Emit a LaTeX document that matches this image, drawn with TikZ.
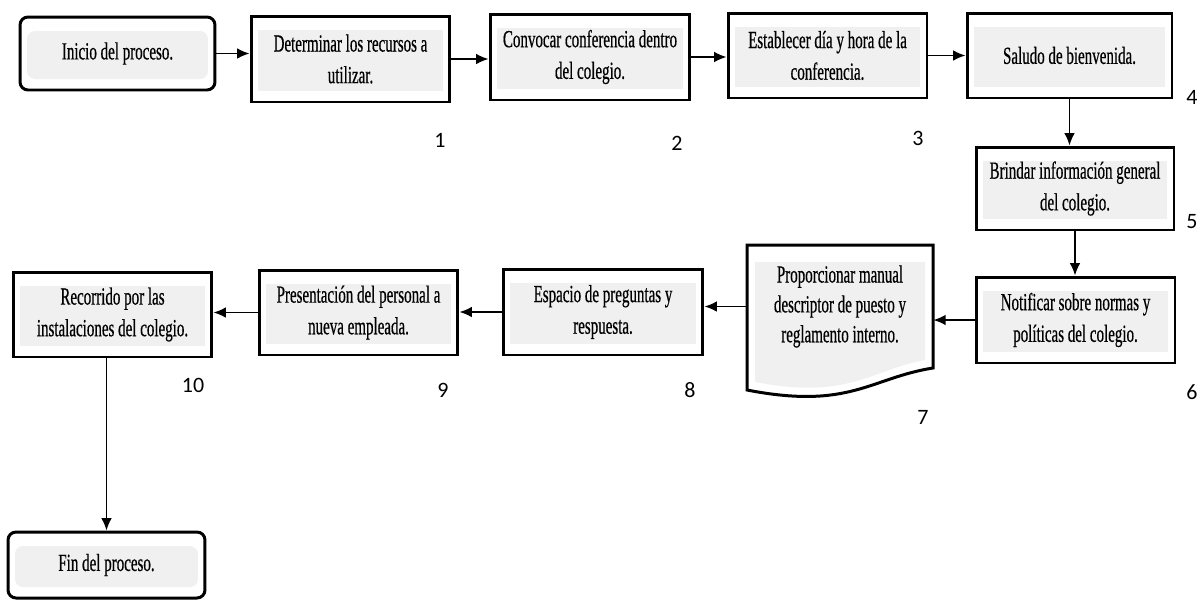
\documentclass[tikz,border=0pt]{standalone}
\usepackage{fontspec}
\setmainfont{Liberation Serif}[FakeStretch=0.61, FakeBold=0.5]
\newfontfamily\numfont{Carlito}
\usetikzlibrary{arrows.meta}
\tikzset{
  gris/.style={path picture={\fill[gray!12] ([shift={(0.14cm,-0.28cm)}]path picture bounding box.north west) rectangle ([shift={(-0.14cm,0.22cm)}]path picture bounding box.south east);}},
  paso/.style={draw, line width=1.7pt, fill=white, align=center, inner sep=0pt, gris,
    font=\fontsize{14}{18}\selectfont},
  limite/.style={paso, rounded corners=0.16cm},
  num/.style={font=\numfont\fontsize{12.5}{14}\selectfont}
}
\begin{document}
\begin{tikzpicture}[x=0.02cm, y=-0.02cm, >={Latex[length=7pt,width=6pt]}]
      \useasboundingbox (0,0) rectangle (1199,600);

      % fila superior
      \draw (117.5,53.5) node[limite, minimum width=3.9cm, minimum height=1.46cm] (ini) {Inicio del proceso.};
      \draw (350.5,59) node[paso, minimum width=3.98cm, minimum height=1.72cm] (b1) {Determinar los recursos a\\utilizar.};
      \draw (590,57) node[paso, minimum width=4cm, minimum height=1.72cm] (b2) {Convocar conferencia dentro\\del colegio.};
      \draw (827.5,55.5) node[paso, minimum width=3.98cm, minimum height=1.7cm] (b3) {Establecer día y hora de la\\conferencia.};
      \draw (1069.5,55.5) node[paso, minimum width=4.1cm, minimum height=1.7cm] (b4) {Saludo de bienvenida.};

      % columna derecha
      \draw (1075,188.5) node[paso, minimum width=3.96cm, minimum height=1.66cm] (b5) {Brindar información general\\del colegio.};
      \draw (1075.5,320) node[paso, minimum width=3.98cm, minimum height=1.72cm] (b6) {Notificar sobre normas y\\políticas del colegio.};

      % documento
      \draw[line width=1.7pt, fill=white] (747,245) -- (933,245) -- (933,368) .. controls (870,378) and (850,410) .. (747,390) -- cycle;
      \fill[gray!12] (755,262) -- (925,262) -- (925,360) .. controls (870,370) and (850,400) .. (755,382) -- cycle;
      \draw (840,306.5) node[minimum width=3.72cm, minimum height=2.46cm, align=center, inner sep=0pt, font=\fontsize{14}{17}\selectfont] (b7) {Proporcionar manual\\descriptor de puesto y\\reglamento interno.};

      % fila inferior
      \draw (603,312) node[paso, minimum width=4cm, minimum height=1.72cm] (b8) {Espacio de preguntas y\\respuesta.};
      \draw (358.5,312.5) node[paso, minimum width=3.98cm, minimum height=1.7cm] (b9) {Presentación del personal a\\nueva empleada.};
      \draw (112.5,314.5) node[paso, minimum width=3.98cm, minimum height=1.7cm] (b10) {Recorrido por las\\instalaciones del colegio.};
      \draw (106.5,565) node[limite, minimum width=3.94cm, minimum height=1.32cm] (fin) {Fin del proceso.};

      % numeros
      \draw (440,140) node[num] (n1) {1};
      \draw (677,143) node[num] (n2) {2};
      \draw (918,138) node[num] (n3) {3};
      \draw (1192,97) node[num] (n4) {4};
      \draw (1192,222) node[num] (n5) {5};
      \draw (1192,392) node[num] (n6) {6};
      \draw (923,417) node[num] (n7) {7};
      \draw (690,390) node[num] (n8) {8};
      \draw (443,390) node[num] (n9) {9};
      \draw (193,385) node[num] (n10) {10};

      % flechas
      \draw[->, line width=0.9pt] (ini.east) -- (ini.east -| b1.west);
      \draw[->, line width=0.9pt] (b1.east) -- (b1.east -| b2.west);
      \draw[->, line width=0.9pt] (b2.east) -- (b2.east -| b3.west);
      \draw[->, line width=0.9pt] (b3.east) -- (b3.east -| b4.west);
      \draw[->, line width=0.9pt] (b4.south) -- (b4.south |- b5.north);
      \draw[->, line width=0.9pt] (b5.south) -- (b5.south |- b6.north);
      \draw[->, line width=0.9pt] (b6.west) -- (b6.west -| b7.east);
      \draw[->, line width=0.9pt] (b7.west) -- (b7.west -| b8.east);
      \draw[->, line width=0.9pt] (b8.west) -- (b8.west -| b9.east);
      \draw[->, line width=0.9pt] (b9.west) -- (b9.west -| b10.east);
      \draw[->, line width=0.9pt] (fin.north |- b10.south) -- (fin.north);
    \end{tikzpicture}
\end{document}
